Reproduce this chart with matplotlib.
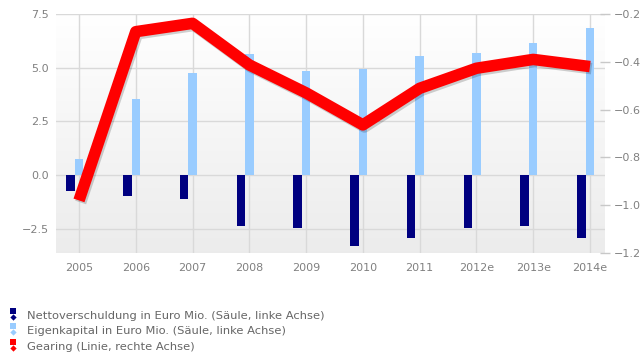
import numpy as np
import matplotlib
matplotlib.use("Agg")
import matplotlib.pyplot as plt
import matplotlib.patheffects as pe
from matplotlib.lines import Line2D

# Data
years = ["2005", "2006", "2007", "2008", "2009", "2010", "2011", "2012e", "2013e", "2014e"]
netto_debt = [-0.73, -0.98, -1.13, -2.38, -2.45, -3.31, -2.92, -2.45, -2.38, -2.92]
equity = [0.75, 3.55, 4.74, 5.65, 4.83, 4.95, 5.56, 5.67, 6.13, 6.85]
gearing = [-0.98, -0.274, -0.239, -0.413, -0.53, -0.664, -0.511, -0.427, -0.39, -0.42]

left_ticks = [-2.5, 0.0, 2.5, 5.0, 7.5]
right_ticks = [-1.2, -1.0, -0.8, -0.6, -0.4, -0.2]
legend_labels = [
    "Nettoverschuldung in Euro Mio. (Säule, linke Achse)",
    "Eigenkapital in Euro Mio. (Säule, linke Achse)",
    "Gearing (Linie, rechte Achse)",
]

NAVY = "#000080"
LIGHT = "#99ccff"
RED = "#ff0000"
GRID = "#d9d9d9"
TICK_TXT = "#808080"
LEG_TXT = "#666666"

W, H = 640, 358
fig = plt.figure(figsize=(W / 100, H / 100), dpi=100)
fig.patch.set_facecolor("white")

ax_l, ax_r, ax_t, ax_b = 56, 605, 14, 253
ax = fig.add_axes([ax_l / W, 1 - ax_b / H, (ax_r - ax_l) / W, (ax_b - ax_t) / H])
ax.set_zorder(1)

x = np.arange(len(years))
bw = 0.15

# Background gradient (white at top, light grey at bottom)
grad = np.linspace(1.0, 0.0, 256).reshape(-1, 1)
top_c = np.array([1.0, 1.0, 1.0])
bot_c = np.array([0.925, 0.925, 0.925])
img = (bot_c + (top_c - bot_c) * grad[..., None]).reshape(256, 1, 3)
ax.imshow(img, extent=[0, 1, 0, 1], transform=ax.transAxes, aspect="auto", zorder=0)

ax.set_xlim(-0.405, 9.265)
ax.set_ylim(-3.63, 7.5)

# Columns: debt just left of each category, equity centred on it
ax.bar(x - bw, netto_debt, width=bw, color=NAVY, zorder=3, linewidth=0)
ax.bar(x, equity, width=bw, color=LIGHT, zorder=3, linewidth=0)

ax.set_yticks(left_ticks)
ax.set_yticklabels([f"{v:.1f}".replace("-", "\u2212") for v in left_ticks])
ax.set_xticks(x)
ax.set_xticklabels(years)
ax.grid(True, color=GRID, linewidth=1.0, zorder=1)
ax.set_axisbelow(True)
ax.tick_params(axis="both", length=0, labelsize=8, labelcolor=TICK_TXT)
ax.tick_params(axis="y", pad=5)
ax.tick_params(axis="x", pad=7)
for s in ax.spines.values():
    s.set_visible(False)

# Secondary axis for the gearing line
ax2 = ax.twinx()
ax2.set_zorder(2)
ax2.patch.set_visible(False)
ax2.set_ylim(-1.2, -0.2)
ax2.set_yticks(right_ticks)
ax2.set_yticklabels([f"{v:.1f}".replace("-", "\u2212") for v in right_ticks])
ax2.tick_params(axis="y", direction="inout", length=7, width=1, color="#c8c8c8",
                labelsize=8, labelcolor=TICK_TXT, pad=3)
for s in ax2.spines.values():
    s.set_visible(False)

ax2.plot(x, gearing, color=RED, linewidth=8.3, solid_joinstyle="round",
         solid_capstyle="butt", zorder=5,
         path_effects=[pe.SimpleLineShadow(offset=(1.2, -1.5), shadow_color="#000000", alpha=0.18),
                       pe.Normal()])

# Legend drawn in figure pixel coordinates
rows_y = [316, 331, 347]
colors = [NAVY, LIGHT, RED]
for yy, col, lab in zip(rows_y, colors, legend_labels):
    fy = 1 - yy / H
    fig.add_artist(Line2D([12.5 / W], [1 - (yy - 5) / H], marker="s", markersize=4.6,
                          color=col, markeredgewidth=0, transform=fig.transFigure))
    fig.add_artist(Line2D([12.5 / W], [1 - (yy + 1) / H], marker="D", markersize=3.2,
                          color=col, markeredgewidth=0, transform=fig.transFigure))
    fig.text(27 / W, fy, lab, color=LEG_TXT, fontsize=8.25, va="center", ha="left")

fig.savefig("out.png", dpi=100)
